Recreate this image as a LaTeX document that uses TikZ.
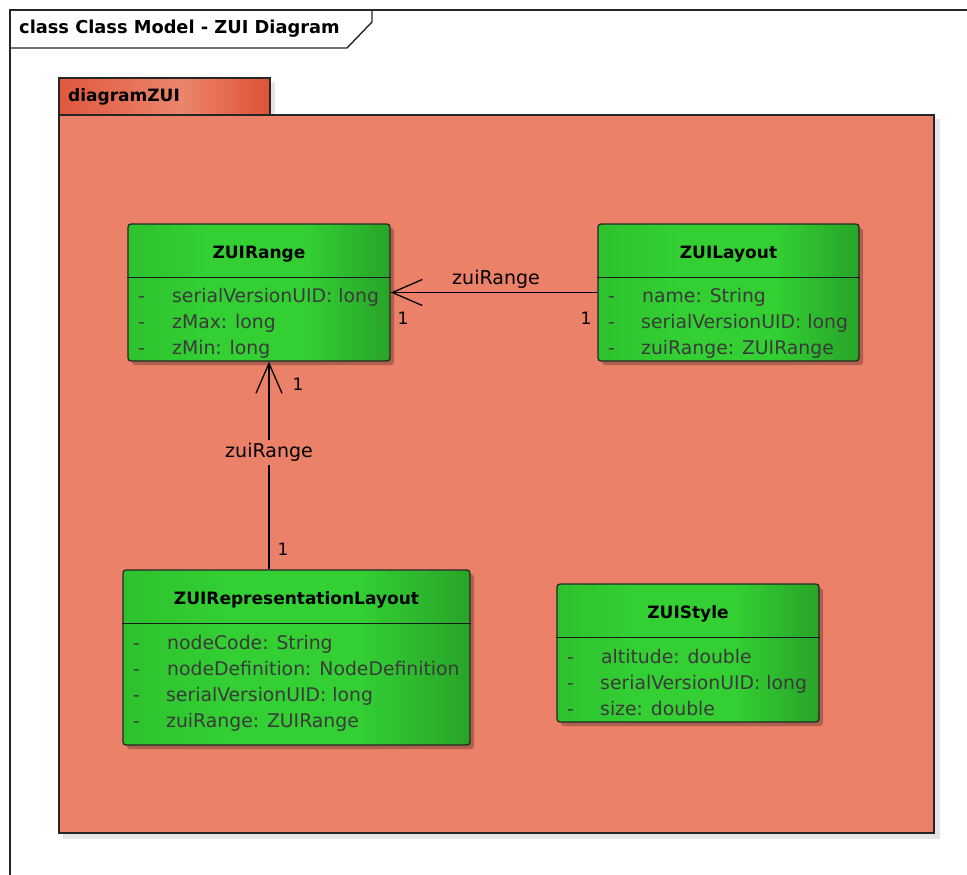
\documentclass[tikz,border=0pt]{standalone}
\usepackage{fontspec}
\setmainfont{DejaVu Sans}
\usetikzlibrary{arrows.meta,calc,shadows}

\definecolor{pkgfill}{HTML}{EC8169}
\definecolor{tableft}{HTML}{E0583E}
\definecolor{tabmid}{HTML}{EB856D}
\definecolor{tabright}{HTML}{DF5234}
\definecolor{grleft}{HTML}{2EC22E}
\definecolor{grmid}{HTML}{33CF33}
\definecolor{grright}{HTML}{28A428}
\definecolor{attrtext}{HTML}{3A3A3A}

% horizontal fills for the package tab and the class boxes
% (TikZ maps a path onto the 25bp..75bp band of a shading)
\pgfdeclarehorizontalshading{tabshade}{100bp}{color(0bp)=(tableft); color(25bp)=(tableft); color(54bp)=(tabmid); color(75bp)=(tabright); color(100bp)=(tabright)}
\pgfdeclarehorizontalshading{greenshade}{100bp}{color(0bp)=(grleft); color(25bp)=(grleft); color(40bp)=(grmid); color(59bp)=(grmid); color(75bp)=(grright); color(100bp)=(grright)}

\tikzset{
  frameline/.style={line width=1.4pt, draw=black!85},
  classbox/.style={draw=black!85, line width=1.3pt, rounded corners=3pt,
    shading=greenshade,
    drop shadow={shadow xshift=4pt, shadow yshift=-4pt, opacity=0.25, fill=black},
    inner sep=0pt},
  sepline/.style={line width=1.3pt, draw=black!90},
  classtitle/.style={font=\bfseries\fontsize{17}{20}\selectfont, text=black},
  attr/.style={anchor=west, font=\fontsize{18.8}{21}\selectfont, text=attrtext,
    inner sep=0pt, text height=13pt, text depth=4pt},
  assoclabel/.style={font=\fontsize{19}{22}\selectfont, text=black, inner sep=1pt},
  multlabel/.style={font=\fontsize{17}{20}\selectfont, text=black, inner sep=0pt},
  assoc/.style={line width=1.3pt, draw=black,
    -{Straight Barb[length=30pt, width=26pt, line width=1.3pt]}},
}

\begin{document}
\begin{tikzpicture}[x=1pt, y=-1pt]
\useasboundingbox (0,0) rectangle (967,875);
\fill[white] (0,0) rectangle (967,875);

% diagram frame with its title tab
\draw[frameline] (10,875) -- (10,10) -- (967,10);
\draw[frameline] (10,48) -- (347,48) -- (372,22) -- (372,10);
\node[anchor=west, font=\bfseries\fontsize{17.8}{20}\selectfont, inner sep=0pt] (frametitle) at (19,29) {class Class Model - ZUI Diagram};

% package diagramZUI
\fill[black!10] (63,119) rectangle (940,839);
\fill[black!10] (63,82) rectangle (275,115);
\draw[frameline, fill=pkgfill] (59,115) rectangle (934,833);
\draw[frameline, shading=tabshade] (59,78) rectangle (270,115);
\node[anchor=west, font=\bfseries\fontsize{17}{20}\selectfont, inner sep=0pt] (pkgname) at (68,97) {diagramZUI};

% class ZUIRange
\node[classbox, minimum width=262pt, minimum height=137pt] (rng) at (259,292.5) {};
\draw[sepline] ($(rng.north west)+(0,54)$) -- ($(rng.north east)+(0,54)$);
\node[classtitle] (rngtitle) at ($(rng.north)+(0,31)$) {ZUIRange};
\node[attr] (rngv1) at (138,298) {-};
\node[attr] (rngv2) at (138,324) {-};
\node[attr] (rngv3) at (138,350) {-};
\node[attr] (rnga1) at (172,298) {serialVersionUID: long};
\node[attr] (rnga2) at (172,324) {zMax: long};
\node[attr] (rnga3) at (172,350) {zMin: long};

% class ZUILayout
\node[classbox, minimum width=261pt, minimum height=137pt] (lay) at (728.5,292.5) {};
\draw[sepline] ($(lay.north west)+(0,54)$) -- ($(lay.north east)+(0,54)$);
\node[classtitle] (laytitle) at ($(lay.north)+(0,31)$) {ZUILayout};
\node[attr] (layv1) at (608,298) {-};
\node[attr] (layv2) at (608,324) {-};
\node[attr] (layv3) at (608,350) {-};
\node[attr] (laya1) at (642,298) {name: String};
\node[attr] (laya2) at (641,324) {serialVersionUID: long};
\node[attr] (laya3) at (641,350) {zuiRange: ZUIRange};

% class ZUIRepresentationLayout
\node[classbox, minimum width=347pt, minimum height=175pt] (rep) at (296.5,657.5) {};
\draw[sepline] ($(rep.north west)+(0,54)$) -- ($(rep.north east)+(0,54)$);
\node[classtitle] (reptitle) at ($(rep.north)+(0,31)$) {ZUIRepresentationLayout};
\node[attr] (repv1) at (133,645) {-};
\node[attr] (repv2) at (133,671) {-};
\node[attr] (repv3) at (133,697) {-};
\node[attr] (repv4) at (133,723) {-};
\node[attr] (repa1) at (167,645) {nodeCode: String};
\node[attr] (repa2) at (167,671) {nodeDefinition: NodeDefinition};
\node[attr] (repa3) at (166,697) {serialVersionUID: long};
\node[attr] (repa4) at (166,723) {zuiRange: ZUIRange};

% class ZUIStyle
\node[classbox, minimum width=262pt, minimum height=138pt] (sty) at (688,653) {};
\draw[sepline] ($(sty.north west)+(0,54)$) -- ($(sty.north east)+(0,54)$);
\node[classtitle] (stytitle) at ($(sty.north)+(0,31)$) {ZUIStyle};
\node[attr] (styv1) at (567,659) {-};
\node[attr] (styv2) at (567,685) {-};
\node[attr] (styv3) at (567,711) {-};
\node[attr] (stya1) at (601,659) {altitude: double};
\node[attr] (stya2) at (600,685) {serialVersionUID: long};
\node[attr] (stya3) at (600,711) {size: double};

% association ZUILayout -> ZUIRange
\draw[assoc] (lay.west) -- (rng.east);
\node[assoclabel] (lbl1) at (496,279) {zuiRange};
\node[multlabel] (m1a) at (403,318) {1};
\node[multlabel] (m1b) at (586,318) {1};

% association ZUIRepresentationLayout -> ZUIRange
\coordinate (vx) at (269,0);
\draw[assoc] (rep.north -| vx) -- node[pos=0.5625, assoclabel, fill=pkgfill, inner sep=3pt] (lbl2) {zuiRange} (rng.south -| vx);
\node[multlabel] (m2a) at (298,384) {1};
\node[multlabel] (m2b) at (283,549) {1};
\end{tikzpicture}
\end{document}
